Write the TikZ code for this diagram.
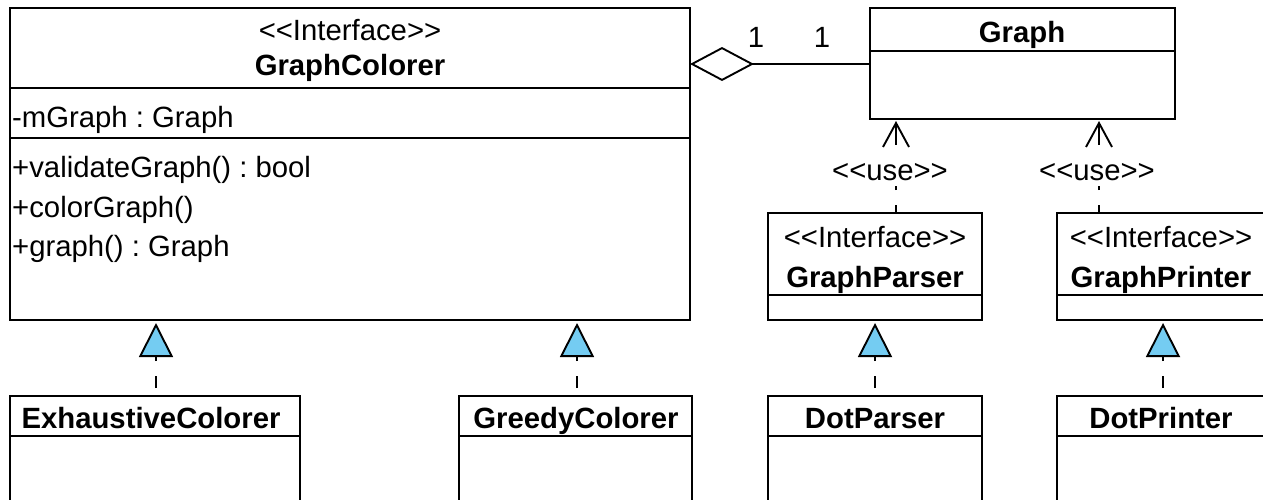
\documentclass[tikz,border=0pt]{standalone}
\usepackage{fontspec}
\setmainfont{Liberation Sans}
\usetikzlibrary{arrows.meta}
\definecolor{realblue}{HTML}{74CCF2}
\frenchspacing
\newcommand{\stereo}[1]{<{}<#1>{}>}
\tikzset{
  classbox/.style={draw, line width=1.9pt, inner sep=0pt, outer sep=0pt, anchor=north west},
  divider/.style={line width=1.9pt},
  txt/.style={inner sep=0pt, anchor=base, font=\fontsize{29.3}{35}\selectfont},
  btxt/.style={inner sep=0pt, anchor=base, font=\fontsize{29.3}{35}\selectfont\bfseries},
  ltxt/.style={txt, anchor=base west},
  realize/.style={line width=1.9pt, dash pattern=on 12pt off 15pt, dash phase=19pt,
    -{Triangle[length=34pt,width=34pt,fill=realblue,line width=1.9pt]}},
  usedep/.style={line width=1.9pt, dash pattern=on 8pt off 15pt},
  usehead/.style={line width=1.9pt},
  uselabel/.style={txt, fill=white, inner sep=1pt, text height=21pt, text depth=5pt},
  aggr/.style={line width=1.9pt, {Diamond[open,length=64pt,width=34pt,line width=1.9pt]}-},
  mult/.style={txt},
}
\begin{document}
\begin{tikzpicture}[x=1pt, y=-1pt]
\useasboundingbox (0,0) rectangle (1263,499);

% boxes
\node[classbox, minimum width=680pt, minimum height=312pt] (gc) at (10,8) {};
\node[classbox, minimum width=305pt, minimum height=111pt] (graph) at (870,8) {};
\node[classbox, minimum width=214pt, minimum height=107pt] (gp) at (768,213) {};
\node[classbox, minimum width=215pt, minimum height=107pt] (gpr) at (1057,213) {};
\node[classbox, minimum width=290pt, minimum height=130pt] (exh) at (10,396) {};
\node[classbox, minimum width=233pt, minimum height=130pt] (greedy) at (459,396) {};
\node[classbox, minimum width=214pt, minimum height=130pt] (dp) at (768,396) {};
\node[classbox, minimum width=215pt, minimum height=130pt] (dpr) at (1057,396) {};

% dividers
\draw[divider] (gc.west |- 0,88) -- (gc.east |- 0,88);
\draw[divider] (gc.west |- 0,138) -- (gc.east |- 0,138);
\draw[divider] (graph.west |- 0,51) -- (graph.east |- 0,51);
\draw[divider] (gp.west |- 0,295) -- (gp.east |- 0,295);
\draw[divider] (gpr.west |- 0,295) -- (gpr.east |- 0,295);
\draw[divider] (exh.west |- 0,436) -- (exh.east |- 0,436);
\draw[divider] (greedy.west |- 0,436) -- (greedy.east |- 0,436);
\draw[divider] (dp.west |- 0,436) -- (dp.east |- 0,436);
\draw[divider] (dpr.west |- 0,436) -- (dpr.east |- 0,436);

% texts
\node[txt] (gcst) at (350,40) {\stereo{Interface}};
\node[btxt] (gcname) at (350,75) {GraphColorer};
\node[ltxt] (gcattr) at (12,127) {-mGraph : Graph};
\node[ltxt] (gcm1) at (12,177) {+validateGraph() : bool};
\node[ltxt] (gcm2) at (12,217) {+colorGraph()};
\node[ltxt] (gcm3) at (12,256) {+graph() : Graph};
\node[btxt] (graphname) at (1022,42) {Graph};
\node[txt] (gpst) at (875,247) {\stereo{Interface}};
\node[btxt] (gpname) at (875,287) {GraphParser};
\node[txt] (gprst) at (1161,247) {\stereo{Interface}};
\node[btxt] (gprname) at (1161,287) {GraphPrinter};
\node[btxt] (exhname) at (151,428) {ExhaustiveColorer};
\node[btxt] (greedyname) at (576,428) {GreedyColorer};
\node[btxt] (dpname) at (875,428) {DotParser};
\node[btxt] (dprname) at (1161,428) {DotPrinter};

% aggregation
\draw[aggr] (gc.east |- 0,64) -- (graph.west |- 0,64);
\node[mult] (m1) at (756,47) {1};
\node[mult] (m2) at (822,47) {1};

% realizations
\draw[realize, shorten >=3pt] (exh.north -| 156,0) -- (gc.south -| 156,0);
\draw[realize, shorten >=3pt] (greedy.north -| 577,0) -- (gc.south -| 577,0);
\draw[realize, shorten >=3pt] (dp.north -| 875,0) -- (gp.south -| 875,0);
\draw[realize, shorten >=3pt] (dpr.north -| 1163,0) -- (gpr.south -| 1163,0);

% use dependencies
\draw[usedep, shorten >=28pt] (gp.north -| 896,0) -- (graph.south -| 896,0);
\draw[usehead] (graph.south -| 896,0) ++(-13,28) -- ++(13,-24) -- ++(13,24);
\draw[usehead] (graph.south -| 896,0) ++(0,4) -- ++(0,22);
\node[uselabel] (use1) at (890,180) {\stereo{use}};
\draw[usedep, shorten >=28pt] (gpr.north -| 1099,0) -- (graph.south -| 1099,0);
\draw[usehead] (graph.south -| 1099,0) ++(-13,28) -- ++(13,-24) -- ++(13,24);
\draw[usehead] (graph.south -| 1099,0) ++(0,4) -- ++(0,22);
\node[uselabel] (use2) at (1097,180) {\stereo{use}};
\end{tikzpicture}
\end{document}
